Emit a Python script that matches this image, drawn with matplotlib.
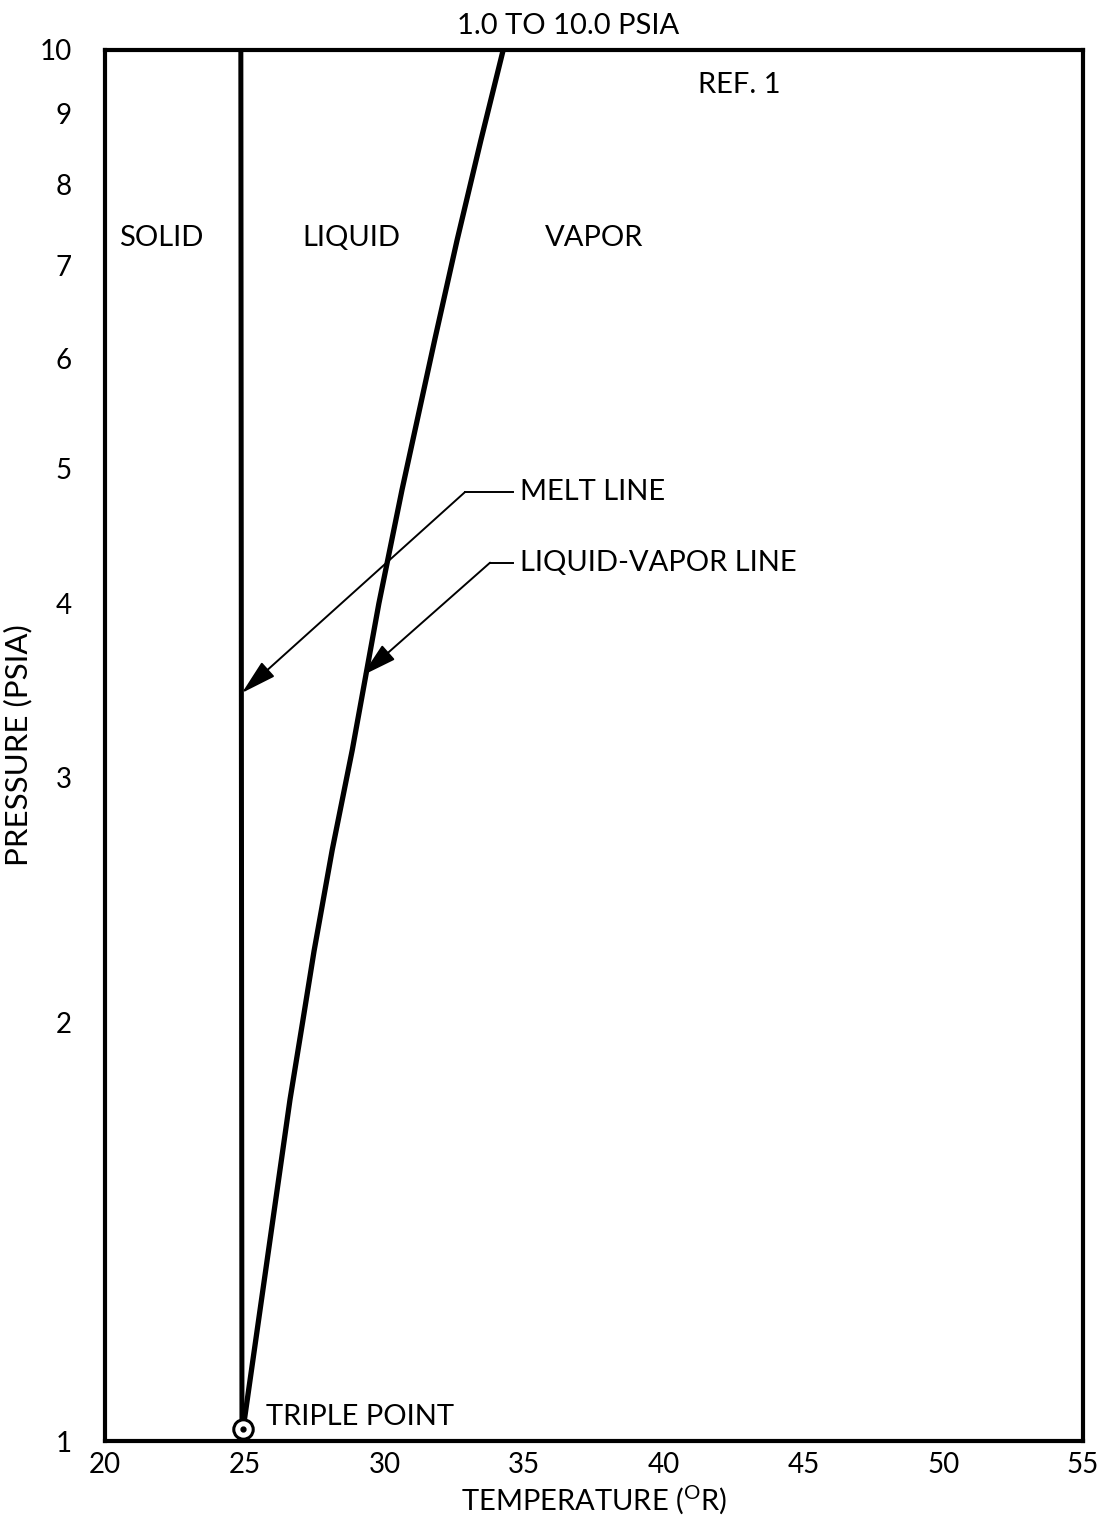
import numpy as np
import matplotlib.pyplot as plt

plt.rcParams['font.family'] = ['Lato', 'DejaVu Sans']
plt.rcParams['mathtext.fontset'] = 'custom'
plt.rcParams['mathtext.rm'] = 'Lato'

# liquid-vapor (saturation) line
lv_T = [24.94, 26.62, 27.07, 27.48, 28.13, 28.85, 29.8, 30.63, 31.8, 32.6, 33.45, 34.25]
lv_p = [1.02, 1.76, 2.0, 2.25, 2.66, 3.14, 4.0, 4.83, 6.19, 7.30, 8.61, 10.0]
# melt line
melt_T = [24.90, 24.86]
melt_p = [1.02, 10.0]
# triple point
tp_T = 24.94
tp_p = 1.02

xticks = [20, 25, 30, 35, 40, 45, 50, 55]
yticks = [1, 2, 3, 4, 5, 6, 7, 8, 9, 10]

fs = 21

fig = plt.figure(figsize=(11, 15.28), dpi=100)
ax = fig.add_axes([0.0955, 0.0569, 0.889, 0.9104])

ax.plot(melt_T, melt_p, color='k', lw=3.6, solid_capstyle='butt')
ax.plot(lv_T, lv_p, color='k', lw=3.8, solid_capstyle='butt', solid_joinstyle='round')
ax.plot([tp_T], [tp_p], marker='o', ms=14, mfc='white', mec='k', mew=2.2, zorder=5)
ax.plot([tp_T], [tp_p], marker='o', ms=3.5, color='k', zorder=6)

ax.set_yscale('log')
ax.set_xlim(20, 55)
ax.set_ylim(1, 10)
ax.set_xticks(xticks)
ax.set_xticklabels([str(v) for v in xticks])
ax.set_yticks(yticks)
ax.set_yticklabels([str(v) for v in yticks])
ax.minorticks_off()
ax.tick_params(axis='both', length=0, labelsize=20)
ax.tick_params(axis='y', pad=24)
ax.tick_params(axis='x', pad=8)
for s in ax.spines.values():
    s.set_linewidth(3)

ax.set_xlabel(r'TEMPERATURE ($^{\mathrm{O}}$R)', fontsize=fs, labelpad=4)
ax.set_ylabel('PRESSURE (PSIA)', fontsize=22.5, labelpad=5)
ax.text(0.474, 1.008, '1.0 TO 10.0 PSIA', transform=ax.transAxes,
        ha='center', va='bottom', fontsize=fs)

ax.text(42.7, 9.44, 'REF. 1', ha='center', va='center', fontsize=fs)
ax.text(22.0, 7.33, 'SOLID', ha='center', va='center', fontsize=fs)
ax.text(28.8, 7.33, 'LIQUID', ha='center', va='center', fontsize=fs)
ax.text(37.5, 7.33, 'VAPOR', ha='center', va='center', fontsize=fs)
ax.text(25.75, 1.04, 'TRIPLE POINT', ha='left', va='center', fontsize=fs)

# leaders
ax.text(34.85, 4.81, 'MELT LINE', ha='left', va='center', fontsize=fs)
ax.plot([32.88, 34.6], [4.81, 4.81], color='k', lw=1.4)
ax.annotate('', xy=(24.9, 3.45), xytext=(32.88, 4.81),
            arrowprops=dict(arrowstyle='-|>,head_length=1.1,head_width=0.3',
                            color='k', lw=1.4, mutation_scale=20, shrinkA=0, shrinkB=0))

ax.text(34.85, 4.28, 'LIQUID-VAPOR LINE', ha='left', va='center', fontsize=fs)
ax.plot([33.78, 34.6], [4.28, 4.28], color='k', lw=1.4)
ax.annotate('', xy=(29.2, 3.55), xytext=(33.78, 4.28),
            arrowprops=dict(arrowstyle='-|>,head_length=1.1,head_width=0.3',
                            color='k', lw=1.4, mutation_scale=20, shrinkA=0, shrinkB=0))

fig.savefig('out.png', dpi=100)
